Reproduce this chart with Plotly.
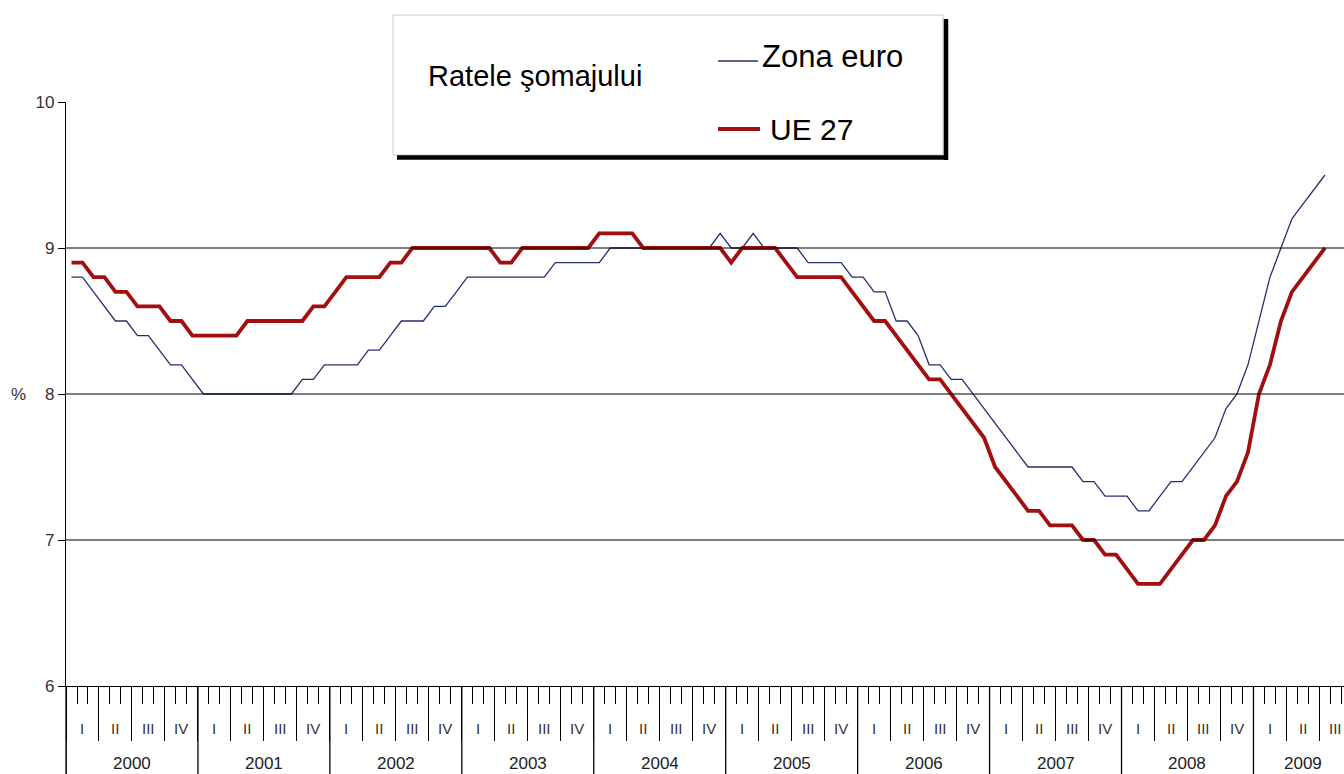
import plotly.graph_objects as go

# ---- data (monthly, Jan 2000 - Jul 2009), unemployment rate %
years = ["2000", "2001", "2002", "2003", "2004", "2005", "2006", "2007", "2008", "2009"]
quarters = ["I", "II", "III", "IV"]
yticks = [6, 7, 8, 9, 10]
series_names = ["Zona euro", "UE 27"]
box_title = "Ratele şomajului"

zona_euro = [
    8.8, 8.8, 8.7, 8.6, 8.5, 8.5, 8.4, 8.4, 8.3, 8.2, 8.2, 8.1,   # 2000
    8.0, 8.0, 8.0, 8.0, 8.0, 8.0, 8.0, 8.0, 8.0, 8.1, 8.1, 8.2,   # 2001
    8.2, 8.2, 8.2, 8.3, 8.3, 8.4, 8.5, 8.5, 8.5, 8.6, 8.6, 8.7,   # 2002
    8.8, 8.8, 8.8, 8.8, 8.8, 8.8, 8.8, 8.8, 8.9, 8.9, 8.9, 8.9,   # 2003
    8.9, 9.0, 9.0, 9.0, 9.0, 9.0, 9.0, 9.0, 9.0, 9.0, 9.0, 9.1,   # 2004
    9.0, 9.0, 9.1, 9.0, 9.0, 9.0, 9.0, 8.9, 8.9, 8.9, 8.9, 8.8,   # 2005
    8.8, 8.7, 8.7, 8.5, 8.5, 8.4, 8.2, 8.2, 8.1, 8.1, 8.0, 7.9,   # 2006
    7.8, 7.7, 7.6, 7.5, 7.5, 7.5, 7.5, 7.5, 7.4, 7.4, 7.3, 7.3,   # 2007
    7.3, 7.2, 7.2, 7.3, 7.4, 7.4, 7.5, 7.6, 7.7, 7.9, 8.0, 8.2,   # 2008
    8.5, 8.8, 9.0, 9.2, 9.3, 9.4, 9.5,                            # 2009
]
ue27 = [
    8.9, 8.9, 8.8, 8.8, 8.7, 8.7, 8.6, 8.6, 8.6, 8.5, 8.5, 8.4,   # 2000
    8.4, 8.4, 8.4, 8.4, 8.5, 8.5, 8.5, 8.5, 8.5, 8.5, 8.6, 8.6,   # 2001
    8.7, 8.8, 8.8, 8.8, 8.8, 8.9, 8.9, 9.0, 9.0, 9.0, 9.0, 9.0,   # 2002
    9.0, 9.0, 9.0, 8.9, 8.9, 9.0, 9.0, 9.0, 9.0, 9.0, 9.0, 9.0,   # 2003
    9.1, 9.1, 9.1, 9.1, 9.0, 9.0, 9.0, 9.0, 9.0, 9.0, 9.0, 9.0,   # 2004
    8.9, 9.0, 9.0, 9.0, 9.0, 8.9, 8.8, 8.8, 8.8, 8.8, 8.8, 8.7,   # 2005
    8.6, 8.5, 8.5, 8.4, 8.3, 8.2, 8.1, 8.1, 8.0, 7.9, 7.8, 7.7,   # 2006
    7.5, 7.4, 7.3, 7.2, 7.2, 7.1, 7.1, 7.1, 7.0, 7.0, 6.9, 6.9,   # 2007
    6.8, 6.7, 6.7, 6.7, 6.8, 6.9, 7.0, 7.0, 7.1, 7.3, 7.4, 7.6,   # 2008
    8.0, 8.2, 8.5, 8.7, 8.8, 8.9, 9.0,                            # 2009
]
months_last_year = 9  # 2009 section on the axis covers Jan-Sep

# ---- geometry helpers
W, H = 1344, 774
ML, MR, MT, MB = 66, 0, 102, 88
PW, PH = W - ML - MR, H - MT - MB
MONTH_PX = 10.995
XMAX = PW / MONTH_PX

def px(x):
    return (x - ML) / PW

def py(y):
    return (H - MB - y) / PH

FONT = "Arial, Liberation Sans, sans-serif"
BLUE, RED = "#27306e", "#a20f10"
x_pos = [i + 0.5 for i in range(len(zona_euro))]

fig = go.Figure()
fig.add_trace(go.Scatter(x=x_pos, y=zona_euro, mode="lines", name=series_names[0],
                         line=dict(color=BLUE, width=1.3)))
fig.add_trace(go.Scatter(x=x_pos, y=ue27, mode="lines", name=series_names[1],
                         line=dict(color=RED, width=3.8)))

shapes = []
# horizontal gridlines at 7, 8, 9
for v in yticks[1:-1]:
    shapes.append(dict(type="line", xref="paper", yref="y", x0=0, x1=1, y0=v, y1=v,
                       line=dict(color="black", width=1.1)))
# y axis extension down through the label band
shapes.append(dict(type="line", xref="paper", yref="paper", x0=0, x1=0, y0=0, y1=py(H + 2),
                   line=dict(color="black", width=1.3)))
# year boundaries extend to bottom
for k in range(len(years)):
    shapes.append(dict(type="line", xref="x", yref="paper", x0=12 * k, x1=12 * k,
                       y0=0, y1=py(H + 2), line=dict(color="black", width=1.3)))

# legend box with shadow
shapes.append(dict(type="rect", xref="paper", yref="paper",
                   x0=px(393), x1=px(943), y0=py(155), y1=py(15),
                   line=dict(color="#c8c8c8", width=1), fillcolor="white", layer="above"))
shapes.append(dict(type="line", xref="paper", yref="paper",
                   x0=px(946), x1=px(946), y0=py(160), y1=py(19),
                   line=dict(color="black", width=4.5), layer="above"))
shapes.append(dict(type="line", xref="paper", yref="paper",
                   x0=px(397), x1=px(948), y0=py(157.5), y1=py(157.5),
                   line=dict(color="black", width=4.5), layer="above"))
# legend line samples
shapes.append(dict(type="line", xref="paper", yref="paper",
                   x0=px(718), x1=px(758), y0=py(61), y1=py(61),
                   line=dict(color=BLUE, width=1.3), layer="above"))
shapes.append(dict(type="line", xref="paper", yref="paper",
                   x0=px(718), x1=px(760), y0=py(129), y1=py(129),
                   line=dict(color=RED, width=3.8), layer="above"))

annotations = []
# quarter labels and year labels
n_years = len(years)
for k, yr in enumerate(years):
    nq = 4 if k < n_years - 1 else 3
    for q in range(nq):
        annotations.append(dict(x=12 * k + 3 * q + 1.5, y=py(728), xref="x", yref="paper",
                                text=quarters[q], showarrow=False,
                                font=dict(family=FONT, size=15, color="#333333"),
                                xanchor="center", yanchor="middle"))
    span = 12 if k < n_years - 1 else months_last_year
    annotations.append(dict(x=12 * k + span / 2, y=py(763), xref="x", yref="paper",
                            text=yr, showarrow=False,
                            font=dict(family=FONT, size=17, color="#222222"),
                            xanchor="center", yanchor="middle"))
# % label
annotations.append(dict(x=px(18), y=8, xref="paper", yref="y", text="%", showarrow=False,
                        font=dict(family=FONT, size=17, color="#333333"),
                        xanchor="center", yanchor="middle"))
# legend texts
annotations.append(dict(x=px(426), y=py(76), xref="paper", yref="paper",
                        text=box_title, showarrow=False,
                        font=dict(family=FONT, size=29, color="black"),
                        xanchor="left", yanchor="middle"))
annotations.append(dict(x=px(760), y=py(56), xref="paper", yref="paper",
                        text=series_names[0], showarrow=False,
                        font=dict(family=FONT, size=31, color="black"),
                        xanchor="left", yanchor="middle"))
annotations.append(dict(x=px(768), y=py(130), xref="paper", yref="paper",
                        text=series_names[1], showarrow=False,
                        font=dict(family=FONT, size=30, color="black"),
                        xanchor="left", yanchor="middle"))

fig.update_layout(
    width=W, height=H,
    margin=dict(l=ML, r=MR, t=MT, b=MB, pad=0),
    plot_bgcolor="white", paper_bgcolor="white",
    font=dict(family=FONT, color="#333333"),
    showlegend=False,
    shapes=shapes,
    annotations=annotations,
    xaxis=dict(range=[0, XMAX], showgrid=False, zeroline=False,
               showline=True, linecolor="black", linewidth=1.3,
               tickmode="array", tickvals=list(range(0, 118, 3)),
               ticks="outside", ticklen=54, tickcolor="black", tickwidth=1.3,
               showticklabels=False,
               minor=dict(tickmode="linear", tick0=0, dtick=1, ticks="outside",
                          ticklen=17, tickcolor="black", tickwidth=1.3)),
    yaxis=dict(range=[6, 10], showgrid=False, zeroline=False,
               showline=True, linecolor="black", linewidth=1.3,
               tickmode="array", tickvals=yticks, ticktext=[str(v) for v in yticks],
               ticks="outside", ticklen=7, tickcolor="black",
               tickfont=dict(family=FONT, size=17, color="#333333")),
)

fig.write_html("out.html",
               config={"displayModeBar": False},
               post_script="document.body.style.margin='0';document.body.style.overflow='hidden';")
